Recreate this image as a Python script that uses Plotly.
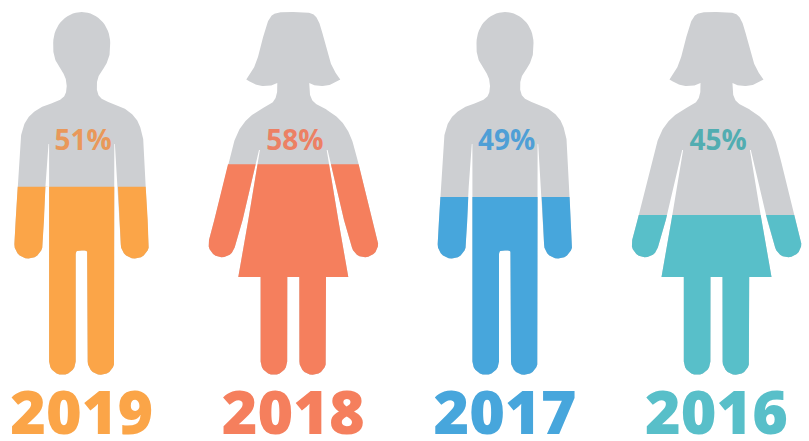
import math
import plotly.graph_objects as go

# ---- data ----
years = ["2019", "2018", "2017", "2016"]
share_labels = ["51%", "58%", "49%", "45%"]
fill_share = [51.8, 58.0, 49.0, 44.0]   # height of the coloured part, % of figure height
figures = ["man", "woman", "man", "woman"]
colors = ["#fba548", "#f57f5d", "#47a6dc", "#58bfc9"]
label_colors = ["#e9985a", "#ec8064", "#4f9fd6", "#52adb1"]
centers = [81.7, 293.3, 505.0, 716.5]
GRAY = "#cdcfd2"
TOP, BOTTOM = 12.0, 374.5


def smooth(pts, rounds=4):
    """Chaikin corner cutting: a smooth curve inside the control polygon."""
    cur = list(pts)
    for _ in range(rounds):
        nxt = [cur[0]]
        for a, b in zip(cur, cur[1:]):
            nxt.append((0.75 * a[0] + 0.25 * b[0], 0.75 * a[1] + 0.25 * b[1]))
            nxt.append((0.25 * a[0] + 0.75 * b[0], 0.25 * a[1] + 0.75 * b[1]))
        nxt.append(cur[-1])
        cur = nxt
    return cur


def arc(cx, cy, r, a0, a1, n=14):
    return [(cx + r * math.cos(math.radians(a0 + (a1 - a0) * i / n)),
             cy + r * math.sin(math.radians(a0 + (a1 - a0) * i / n))) for i in range(n + 1)]


def half_man():
    head = [(28.5 * math.sin(math.radians(a)), 43 - 31 * math.cos(math.radians(a)))
            for a in range(0, 91, 6)]
    pts = head + smooth([(28.5, 43), (28.5, 54), (24, 66), (17.5, 74), (15, 82), (15, 91),
                         (18, 98), (28, 103), (39, 106), (51, 114), (58, 124), (61.5, 139)])
    pts += [(64, 187), (66, 220), (67.3, 244)]
    pts += arc(53.2, 244.5, 14.1, 0, 180)
    pts += [(37.7, 220), (36.3, 187), (33.2, 144), (32.6, 144), (32.6, 361.5)]
    pts += arc(19.3, 361.5, 13.3, 0, 180)
    pts += [(6, 254)]
    pts += arc(3, 253.5, 3, 0, -90, 5)
    return pts + [(0, 250.5)]


def half_woman():
    pts = smooth([(0, TOP), (12, TOP), (21, 14), (26, 22), (30, 36), (34, 53), (39, 68), (47, 79.5)])
    pts += smooth([(47, 79.5), (36, 86), (22, 86), (16, 83)])
    pts += smooth([(16, 83), (16, 94), (20, 103), (33, 109), (48, 120), (58, 136), (65, 163)])
    pts += [(79, 220), (84.3, 240)]
    pts += arc(71.5, 244, 13.3, -15, 165)
    pts += [(50.7, 220), (34.3, 150), (33.4, 150), (45, 220), (55, 277), (32.7, 277), (32.7, 361.5)]
    pts += arc(19.4, 361.5, 13.3, 0, 180)
    return pts + [(6, 277), (0, 277)]


def outline(kind, cx):
    half = half_man() if kind == "man" else half_woman()
    return [(cx + x, y) for x, y in half] + [(cx - x, y) for x, y in reversed(half)]


def clip_below(poly, level):
    """Part of the polygon below the fill level (screen y grows downwards)."""
    out = []
    for i, a in enumerate(poly):
        b = poly[(i + 1) % len(poly)]
        ina, inb = a[1] >= level, b[1] >= level
        if ina:
            out.append(a)
        if ina != inb:
            t = (level - a[1]) / (b[1] - a[1])
            out.append((a[0] + t * (b[0] - a[0]), level))
    return out


def poly_trace(poly, color, name):
    return go.Scatter(x=[p[0] for p in poly] + [poly[0][0]],
                      y=[p[1] for p in poly] + [poly[0][1]],
                      mode="lines", fill="toself", fillcolor=color,
                      line=dict(width=0, color=color), hoverinfo="skip",
                      showlegend=False, name=name)


fig = go.Figure()
for year, kind, cx, share, color in zip(years, figures, centers, fill_share, colors):
    body = outline(kind, cx)
    level = BOTTOM - (BOTTOM - TOP) * share / 100
    fig.add_trace(poly_trace(body, GRAY, year + " total"))
    fig.add_trace(poly_trace(clip_below(body, level), color, year))

fig.add_trace(go.Scatter(x=[c + 1.5 for c in centers], y=[143] * 4, mode="text", text=share_labels,
                         textposition="middle center", hoverinfo="skip", showlegend=False,
                         cliponaxis=False,
                         textfont=dict(family="Open Sans", size=28, weight=700, color=label_colors)))
fig.add_trace(go.Scatter(x=centers, y=[419] * 4, mode="text", text=years,
                         textposition="middle center", hoverinfo="skip", showlegend=False,
                         cliponaxis=False,
                         textfont=dict(family="Open Sans", size=61, weight=800, color=colors)))

fig.update_layout(
    width=809, height=441, margin=dict(l=0, r=0, t=0, b=0),
    paper_bgcolor="white", plot_bgcolor="white", showlegend=False,
    xaxis=dict(range=[0, 809], visible=False, fixedrange=True),
    yaxis=dict(range=[441, 0], visible=False, fixedrange=True),
)
fig.write_html("out.html", config={"displayModeBar": False},
               post_script="document.body.style.margin='0';window.dispatchEvent(new Event('resize'));")
